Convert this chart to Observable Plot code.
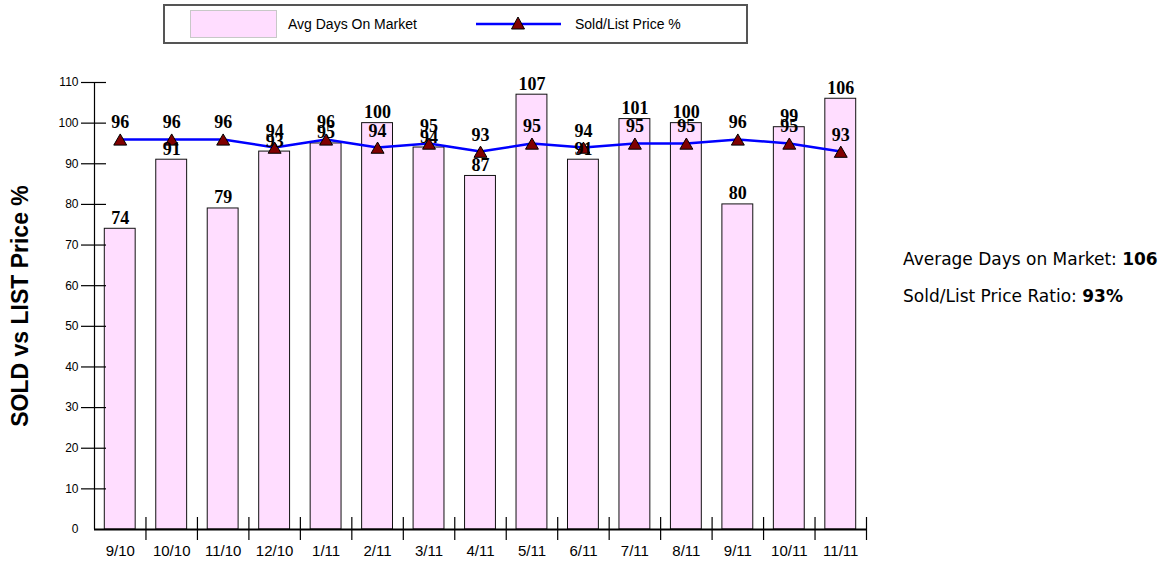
<!DOCTYPE html>
<html>
<head>
<meta charset="utf-8">
<script src="https://cdn.jsdelivr.net/npm/d3@7"></script>
<script src="https://cdn.jsdelivr.net/npm/@observablehq/plot@0.6"></script>
<style>
  body { margin: 0; background: #fff; }
  #wrap { position: relative; width: 1168px; height: 562px; overflow: hidden; }
  #legend { height: 50px; }
  #chart svg { display: block; }
  #stats { position: absolute; left: 903px; top: 250px; font-family: "DejaVu Sans", Verdana, sans-serif; font-size: 17px; color: #000; }
  #stats div { height: 37px; line-height: 19px; white-space: nowrap; }
</style>
</head>
<body>
<div id="wrap">
  <div id="legend"></div>
  <div id="chart"></div>
  <div id="stats"></div>
</div>
<script>
const months = ["9/10","10/10","11/10","12/10","1/11","2/11","3/11","4/11","5/11","6/11","7/11","8/11","9/11","10/11","11/11"];
const daysOnMarket = [74,91,79,93,95,100,94,87,107,91,101,100,80,99,106];
const soldListPct = [96,96,96,94,96,94,95,93,95,94,95,95,96,95,93];
const yTicks = [0,10,20,30,40,50,60,70,80,90,100,110];
const yTitle = "SOLD vs LIST Price %";
const legendLabels = ["Avg Days On Market", "Sold/List Price %"];

const data = months.map((m, i) => ({month: m, days: daysOnMarket[i], pct: soldListPct[i]}));

const W = 1168, H = 512;
const mL = 94, mR = 302, mT = 32, mB = 33;
const step = (W - mL - mR) / months.length;
const frameH = H - mT - mB;

const pink = "#ffddff";
const maroon = "#800000";
const blue = "#0000ff";
const serif = "'Liberation Serif', 'Times New Roman', serif";

const chart = Plot.plot({
  width: W,
  height: H,
  marginLeft: mL,
  marginRight: mR,
  marginTop: mT,
  marginBottom: mB,
  style: {fontFamily: "'Liberation Sans', Arial, sans-serif", background: "#fff", color: "#000"},
  x: {domain: months, paddingInner: 0.4, paddingOuter: 0.2, round: false, label: null, axis: null},
  y: {domain: [0, 110], label: null, axis: null},
  marks: [
    Plot.barY(data, {x: "month", y: "days", fill: pink, stroke: "#111", strokeWidth: 1}),
    // axis lines
    Plot.ruleY([0], {stroke: "#000", strokeWidth: 2}),
    Plot.ruleX([months[0]], {x: d => d, dx: -step / 2, stroke: "#000", strokeWidth: 1.2}),
    // y ticks crossing axis
    Plot.ruleY(yTicks.filter(d => d > 0), {y: d => d, insetLeft: -13, insetRight: (W - mL - mR) - 12, stroke: "#000", strokeWidth: 1.2}),
    // x boundary ticks
    Plot.ruleX(months, {x: d => d, dx: step / 2, insetTop: frameH - 12, insetBottom: -11, stroke: "#000", strokeWidth: 1.2}),
    Plot.axisY({ticks: yTicks, tickSize: 0, tickPadding: 16, fontSize: 12, tickFormat: d => d}),
    Plot.axisX({tickSize: 0, tickPadding: 16, fontSize: 15, style: {letterSpacing: "0.3px"}}),
    Plot.line(data, {x: "month", y: "pct", stroke: blue, strokeWidth: 2.5}),
    Plot.dot(data, {x: "month", y: "pct", symbol: "triangle", r: 4.8, fill: maroon, stroke: "#000", strokeWidth: 1, dy: 2}),
    Plot.text(data, {x: "month", y: "days", text: "days", lineAnchor: "bottom", dy: -5, fontFamily: serif, fontWeight: "bold", fontSize: 18, fill: "#000"}),
    Plot.text(data, {x: "month", y: "pct", text: "pct", lineAnchor: "bottom", dy: -11, fontFamily: serif, fontWeight: "bold", fontSize: 18, fill: "#000"}),
    Plot.text([yTitle], {frameAnchor: "left", textAnchor: "middle", rotate: -90, dx: -74, text: d => d, fontSize: 23, fontWeight: "bold", fill: "#000", fontFamily: "'Liberation Sans', Arial, sans-serif"})
  ]
});
document.getElementById("chart").appendChild(chart);

// Legend (above the chart)
const ns = "http://www.w3.org/2000/svg";
const lg = document.createElementNS(ns, "svg");
lg.setAttribute("width", W);
lg.setAttribute("height", 50);
lg.innerHTML = `
  <rect x="164" y="5" width="583" height="38" fill="#fff" stroke="#555" stroke-width="2"/>
  <rect x="190.5" y="10.5" width="86" height="27" fill="${pink}" stroke="#c8c8c8" stroke-width="1"/>
  <text x="288" y="29" font-family="'Liberation Sans', Arial, sans-serif" font-size="14" fill="#000">${legendLabels[0]}</text>
  <line x1="476" x2="561" y1="24" y2="24" stroke="${blue}" stroke-width="2.5"/>
  <path d="M518,17 L524.5,29 L511.5,29 Z" fill="${maroon}" stroke="#000" stroke-width="1"/>
  <text x="575" y="29" font-family="'Liberation Sans', Arial, sans-serif" font-size="14" fill="#000">${legendLabels[1]}</text>
`;
document.getElementById("legend").appendChild(lg);

// Summary stats (latest month)
const stats = document.getElementById("stats");
stats.innerHTML = `<div>Average Days on Market: <b>${daysOnMarket[daysOnMarket.length - 1]}</b></div>
<div>Sold/List Price Ratio: <b>${soldListPct[soldListPct.length - 1]}%</b></div>`;
</script>
</body>
</html>
